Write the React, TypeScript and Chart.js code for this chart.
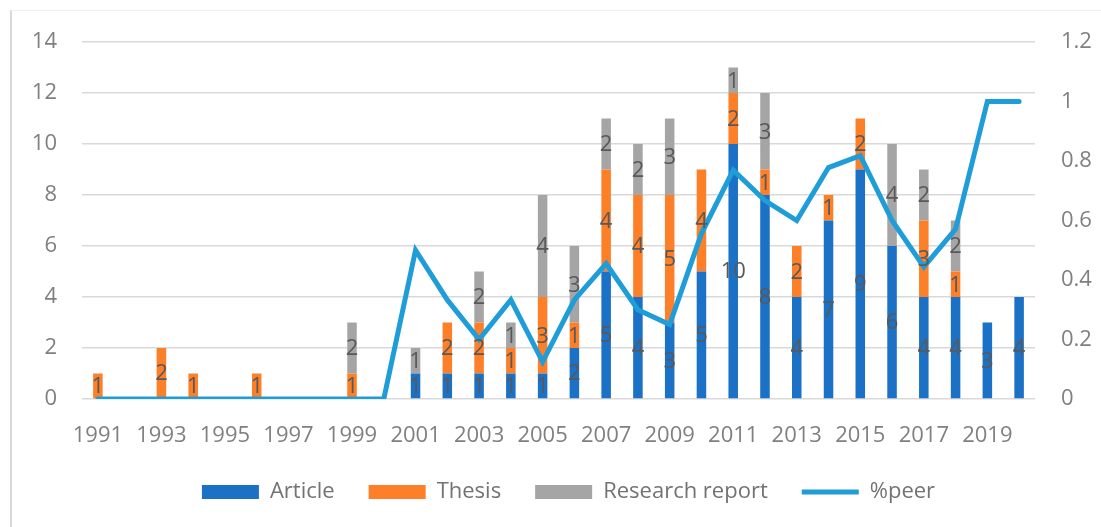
import React, { useEffect, useRef } from "react";
import { Chart, registerables } from "chart.js";

Chart.register(...registerables);

const years = [
  "1991", "1992", "1993", "1994", "1995", "1996", "1997", "1998", "1999", "2000",
  "2001", "2002", "2003", "2004", "2005", "2006", "2007", "2008", "2009", "2010",
  "2011", "2012", "2013", "2014", "2015", "2016", "2017", "2018", "2019", "2020",
];
const article = [0, 0, 0, 0, 0, 0, 0, 0, 0, 0, 1, 1, 1, 1, 1, 2, 5, 4, 3, 5, 10, 8, 4, 7, 9, 6, 4, 4, 3, 4];
const thesis = [1, 0, 2, 1, 0, 1, 0, 0, 1, 0, 0, 2, 2, 1, 3, 1, 4, 4, 5, 4, 2, 1, 2, 1, 2, 0, 3, 1, 0, 0];
const researchReport = [0, 0, 0, 0, 0, 0, 0, 0, 2, 0, 1, 0, 2, 1, 4, 3, 2, 2, 3, 0, 1, 3, 0, 0, 0, 4, 2, 2, 0, 0];
const peerShare = [
  0, 0, 0, 0, 0, 0, 0, 0, 0, 0,
  0.5, 0.333, 0.2, 0.333, 0.125, 0.333, 0.455, 0.3, 0.25, 0.556,
  0.769, 0.667, 0.6, 0.778, 0.818, 0.6, 0.444, 0.571, 1, 1,
];
const leftTicks = [0, 2, 4, 6, 8, 10, 12, 14];
const rightTicks = [0, 0.2, 0.4, 0.6, 0.8, 1, 1.2];

const FONT = "'Open Sans', sans-serif";
const FONT_SIZE = 22;

const barLabelPlugin = {
  id: "barLabels",
  afterDatasetsDraw(chart: any) {
    const ctx = chart.ctx;
    ctx.save();
    ctx.font = `${FONT_SIZE}px ${FONT}`;
    ctx.fillStyle = "#595959";
    ctx.textAlign = "center";
    ctx.textBaseline = "middle";
    chart.data.datasets.forEach((ds: any, i: number) => {
      if (ds.type === "line") return;
      const meta = chart.getDatasetMeta(i);
      meta.data.forEach((el: any, j: number) => {
        const v = ds.data[j];
        if (!v) return;
        const p = el.getProps(["x", "y", "base"], true);
        ctx.fillText(String(v), p.x, (p.y + p.base) / 2 + 1);
      });
    });
    ctx.restore();
  },
};

export default function App() {
  const ref = useRef<HTMLCanvasElement | null>(null);

  useEffect(() => {
    if (!ref.current) return;
    const chart = new Chart(ref.current, {
      type: "bar",
      data: {
        labels: years,
        datasets: [
          {
            type: "bar",
            label: "Article",
            data: article,
            backgroundColor: "#1a71c6",
            pointStyle: "rect",
            order: 1,
            yAxisID: "y",
          },
          {
            type: "bar",
            label: "Thesis",
            data: thesis,
            backgroundColor: "#fd7f28",
            pointStyle: "rect",
            order: 1,
            yAxisID: "y",
          },
          {
            type: "bar",
            label: "Research report",
            data: researchReport,
            backgroundColor: "#a5a5a5",
            pointStyle: "rect",
            order: 1,
            yAxisID: "y",
          },
          {
            type: "line",
            label: "%peer",
            data: peerShare,
            borderColor: "#1e9dd8",
            backgroundColor: "#1e9dd8",
            borderWidth: 5,
            borderCapStyle: "round",
            borderJoinStyle: "miter",
            pointRadius: 0,
            pointStyle: "line",
            tension: 0,
            order: 0,
            yAxisID: "y1",
          },
        ] as any,
      },
      options: {
        responsive: false,
        animation: false,
        layout: { padding: { top: 42, bottom: 14, left: 0, right: 0 } },
        datasets: {
          bar: { categoryPercentage: 1, barPercentage: 0.3 },
        } as any,
        plugins: {
          tooltip: { enabled: false },
          legend: {
            position: "bottom",
            labels: {
              usePointStyle: true,
              pointStyleWidth: 57,
              boxHeight: 14,
              padding: 34,
              color: "#737373",
              font: { family: FONT, size: FONT_SIZE },
              sort: (a: any, b: any) => a.datasetIndex - b.datasetIndex,
            },
          },
        },
        scales: {
          x: {
            stacked: true,
            grid: { display: false },
            border: { display: false },
            ticks: {
              color: "#808080",
              font: { family: FONT, size: FONT_SIZE },
              autoSkip: false,
              maxRotation: 0,
              padding: 16,
              callback: (_v: any, i: number) => (i % 2 === 0 ? years[i] : ""),
            },
            afterFit: (s: any) => {
              s.height = 48;
            },
          },
          y: {
            stacked: true,
            position: "left",
            min: leftTicks[0],
            max: leftTicks[leftTicks.length - 1],
            grid: { color: "#d9d9d9", lineWidth: 1.5, drawTicks: false },
            border: { display: false },
            ticks: {
              stepSize: 2,
              color: "#808080",
              padding: 25,
              font: { family: FONT, size: FONT_SIZE },
            },
            afterFit: (s: any) => {
              s.width = 82;
            },
          },
          y1: {
            position: "right",
            min: rightTicks[0],
            max: rightTicks[rightTicks.length - 1],
            grid: { display: false, drawTicks: false },
            border: { display: false },
            ticks: {
              stepSize: 0.2,
              color: "#808080",
              padding: 26,
              font: { family: FONT, size: FONT_SIZE },
              callback: (v: any) => String(Math.round(Number(v) * 10) / 10),
            },
            afterFit: (s: any) => {
              s.width = 102;
            },
          },
        },
      },
      plugins: [barLabelPlugin],
    });
    return () => chart.destroy();
  }, []);

  return (
    <div style={{ position: "absolute", left: 0, top: 0, width: 1101, height: 527, background: "#fff", overflow: "hidden" }}>
      <div
        style={{
          position: "absolute",
          left: 10,
          top: 10,
          width: 1100,
          height: 530,
          borderLeft: "2px solid #d9d9d9",
          borderTop: "1px solid #f0f0f0",
        }}
      />
      <canvas ref={ref} width={1137} height={527} style={{ position: "absolute", left: 0, top: 0 }} />
    </div>
  );
}
